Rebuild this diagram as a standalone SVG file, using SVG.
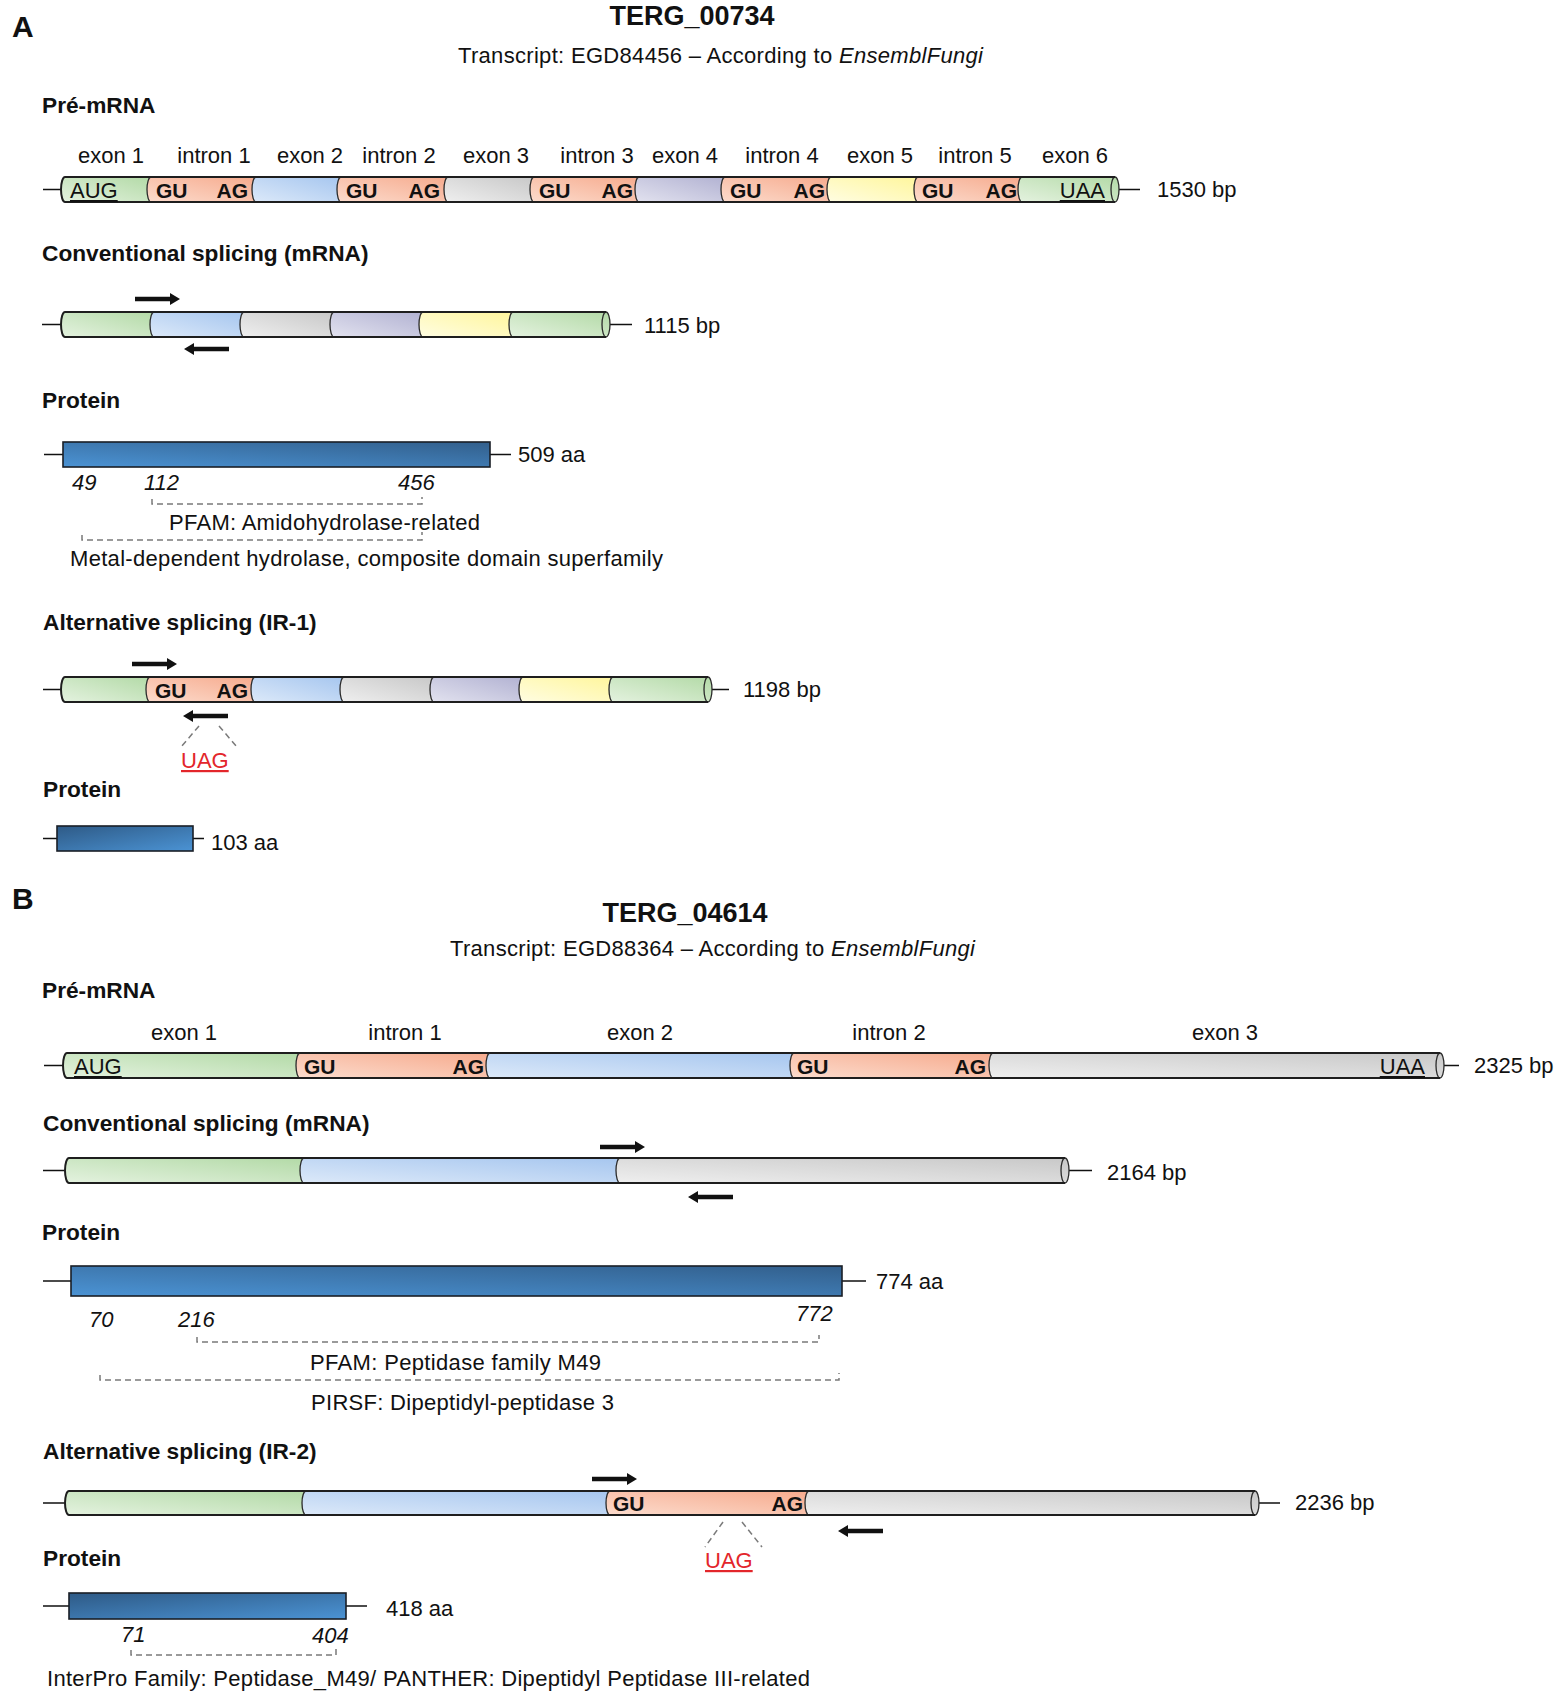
<svg xmlns="http://www.w3.org/2000/svg" xmlns:xlink="http://www.w3.org/1999/xlink" width="1562" height="1696" viewBox="0 0 1562 1696">
<defs>
<style>
text{font-family:"Liberation Sans",Arial,sans-serif;font-size:22px;fill:#111}
.b{font-weight:bold;font-size:22.7px}
.i{font-style:italic}
.big{font-size:27px;font-weight:bold}
.let{font-size:30px;font-weight:bold}
.mid{text-anchor:middle}
.end{text-anchor:end}
.u{text-decoration:underline}
.red{fill:#e3262b}
.nt{font-size:21px;font-weight:bold}
.edge{fill:none;stroke:#1e1e1e;stroke-width:2}
.arc{fill:none;stroke:#2a2a2a;stroke-width:1.3}
.ln{stroke:#111;stroke-width:1.5;fill:none}
.dash{fill:none;stroke:#7a7a7a;stroke-width:1.5;stroke-dasharray:6 4}
.prot{stroke:#1a1f26;stroke-width:1.6}
.arw{fill:#111}
</style>
<linearGradient id="gGreen" x1="0" y1="1" x2="1" y2="0"><stop offset="0" stop-color="#e4f2df"/><stop offset="1" stop-color="#b3daa7"/></linearGradient>
<linearGradient id="gSalmon" x1="0" y1="1" x2="1" y2="0"><stop offset="0" stop-color="#fcdccd"/><stop offset="1" stop-color="#f6aa8d"/></linearGradient>
<linearGradient id="gBlue" x1="0" y1="1" x2="1" y2="0"><stop offset="0" stop-color="#dce9f9"/><stop offset="1" stop-color="#a6c6ef"/></linearGradient>
<linearGradient id="gGray" x1="0" y1="1" x2="1" y2="0"><stop offset="0" stop-color="#efefef"/><stop offset="1" stop-color="#c8c8c8"/></linearGradient>
<linearGradient id="gLav" x1="0" y1="1" x2="1" y2="0"><stop offset="0" stop-color="#e2e2ef"/><stop offset="1" stop-color="#b2b2d2"/></linearGradient>
<linearGradient id="gYellow" x1="0" y1="1" x2="1" y2="0"><stop offset="0" stop-color="#fffde2"/><stop offset="1" stop-color="#fff69c"/></linearGradient>
<linearGradient id="gProt" x1="0" y1="1" x2="1" y2="0"><stop offset="0" stop-color="#4b93d4"/><stop offset="1" stop-color="#325f8c"/></linearGradient>
<linearGradient id="gProtR" x1="0" y1="0" x2="1" y2="1"><stop offset="0" stop-color="#2e5a86"/><stop offset="1" stop-color="#4b93d4"/></linearGradient>
<path id="arR" d="M0,-2.2 H35 V-6 L45,0 L35,6 V2.2 H0 Z"/>
<path id="arL" d="M45,-2.2 H10 V-6 L0,0 L10,6 V2.2 H45 Z"/>
</defs>
<rect width="1562" height="1696" fill="#fff"/>

<!-- ================= PANEL A ================= -->
<g id="A-header">
<text class="let" x="12" y="37">A</text>
<text class="big mid" x="692" y="25">TERG_00734</text>
<text x="458" y="63" textLength="525" lengthAdjust="spacing">Transcript: EGD84456 – According to <tspan class="i">EnsemblFungi</tspan></text>
</g>

<g id="A-premrna">
<text class="b" x="42" y="113">Pré-mRNA</text>
<g class="mid">
<text x="111" y="163">exon 1</text>
<text x="214" y="163">intron 1</text>
<text x="310" y="163">exon 2</text>
<text x="399" y="163">intron 2</text>
<text x="496" y="163">exon 3</text>
<text x="597" y="163">intron 3</text>
<text x="685" y="163">exon 4</text>
<text x="782" y="163">intron 4</text>
<text x="880" y="163">exon 5</text>
<text x="975" y="163">intron 5</text>
<text x="1075" y="163">exon 6</text>
</g>
<path class="ln" d="M43,189.5 H65 M1119,189.5 H1140"/>
<path fill="url(#gGreen)" d="M65,177 H151 A4 12.5 0 0 0 151,202 H65 A4 12.5 0 0 1 65,177 Z"/>
<path fill="url(#gSalmon)" d="M151,177 H256 A4 12.5 0 0 0 256,202 H151 A4 12.5 0 0 1 151,177 Z"/>
<path fill="url(#gBlue)" d="M256,177 H341 A4 12.5 0 0 0 341,202 H256 A4 12.5 0 0 1 256,177 Z"/>
<path fill="url(#gSalmon)" d="M341,177 H448 A4 12.5 0 0 0 448,202 H341 A4 12.5 0 0 1 341,177 Z"/>
<path fill="url(#gGray)" d="M448,177 H534 A4 12.5 0 0 0 534,202 H448 A4 12.5 0 0 1 448,177 Z"/>
<path fill="url(#gSalmon)" d="M534,177 H639 A4 12.5 0 0 0 639,202 H534 A4 12.5 0 0 1 534,177 Z"/>
<path fill="url(#gLav)" d="M639,177 H725 A4 12.5 0 0 0 725,202 H639 A4 12.5 0 0 1 639,177 Z"/>
<path fill="url(#gSalmon)" d="M725,177 H831 A4 12.5 0 0 0 831,202 H725 A4 12.5 0 0 1 725,177 Z"/>
<path fill="url(#gYellow)" d="M831,177 H918 A4 12.5 0 0 0 918,202 H831 A4 12.5 0 0 1 831,177 Z"/>
<path fill="url(#gSalmon)" d="M918,177 H1022 A4 12.5 0 0 0 1022,202 H918 A4 12.5 0 0 1 918,177 Z"/>
<path fill="url(#gGreen)" d="M1022,177 H1115 A4 12.5 0 0 1 1115,202 H1022 A4 12.5 0 0 1 1022,177 Z"/>
<path class="arc" d="M151,177 A4 12.5 0 0 0 151,202 M256,177 A4 12.5 0 0 0 256,202 M341,177 A4 12.5 0 0 0 341,202 M448,177 A4 12.5 0 0 0 448,202 M534,177 A4 12.5 0 0 0 534,202 M639,177 A4 12.5 0 0 0 639,202 M725,177 A4 12.5 0 0 0 725,202 M831,177 A4 12.5 0 0 0 831,202 M918,177 A4 12.5 0 0 0 918,202 M1022,177 A4 12.5 0 0 0 1022,202"/>
<ellipse class="arc" cx="1115" cy="189.5" rx="4" ry="12.5" fill="#e4f2df"/>
<path class="edge" d="M65,177 H1115 M65,202 H1115 M65,202 A4 12.5 0 0 1 65,177"/>
<text class="u" x="70" y="198">AUG</text>
<text class="nt" x="156" y="198">GU</text><text class="nt end" x="248" y="198">AG</text>
<text class="nt" x="346" y="198">GU</text><text class="nt end" x="440" y="198">AG</text>
<text class="nt" x="539" y="198">GU</text><text class="nt end" x="633" y="198">AG</text>
<text class="nt" x="730" y="198">GU</text><text class="nt end" x="825" y="198">AG</text>
<text class="nt" x="922" y="198">GU</text><text class="nt end" x="1017" y="198">AG</text>
<text class="u end" x="1105" y="198">UAA</text>
<text x="1157" y="197">1530 bp</text>
</g>

<g id="A-mrna">
<text class="b" x="42" y="261">Conventional splicing (mRNA)</text>
<path class="ln" d="M42,324.5 H65 M610,324.5 H632"/>
<path fill="url(#gGreen)" d="M65,312 H154 A4 12.5 0 0 0 154,337 H65 A4 12.5 0 0 1 65,312 Z"/>
<path fill="url(#gBlue)" d="M154,312 H244 A4 12.5 0 0 0 244,337 H154 A4 12.5 0 0 1 154,312 Z"/>
<path fill="url(#gGray)" d="M244,312 H334 A4 12.5 0 0 0 334,337 H244 A4 12.5 0 0 1 244,312 Z"/>
<path fill="url(#gLav)" d="M334,312 H423 A4 12.5 0 0 0 423,337 H334 A4 12.5 0 0 1 334,312 Z"/>
<path fill="url(#gYellow)" d="M423,312 H513 A4 12.5 0 0 0 513,337 H423 A4 12.5 0 0 1 423,312 Z"/>
<path fill="url(#gGreen)" d="M513,312 H606 A4 12.5 0 0 1 606,337 H513 A4 12.5 0 0 1 513,312 Z"/>
<path class="arc" d="M154,312 A4 12.5 0 0 0 154,337 M244,312 A4 12.5 0 0 0 244,337 M334,312 A4 12.5 0 0 0 334,337 M423,312 A4 12.5 0 0 0 423,337 M513,312 A4 12.5 0 0 0 513,337"/>
<ellipse class="arc" cx="606" cy="324.5" rx="4" ry="12.5" fill="#e4f2df"/>
<path class="edge" d="M65,312 H606 M65,337 H606 M65,337 A4 12.5 0 0 1 65,312"/>
<text x="644" y="333">1115 bp</text>
</g>

<g id="A-protein">
<text class="b" x="42" y="408">Protein</text>
<path class="ln" d="M44,454.5 H63 M490,454.5 H511"/>
<rect class="prot" x="63" y="442" width="427" height="25" fill="url(#gProt)"/>
<text x="518" y="462">509 aa</text>
<text class="i" x="72" y="490">49</text>
<text class="i" x="144" y="490">112</text>
<text class="i" x="398" y="490">456</text>
<text x="169" y="530" textLength="311" lengthAdjust="spacing">PFAM: Amidohydrolase-related</text>
<text x="70" y="566" textLength="593" lengthAdjust="spacing">Metal-dependent hydrolase, composite domain superfamily</text>
</g>

<g id="A-ir1">
<text class="b" x="43" y="630">Alternative splicing (IR-1)</text>
<path class="ln" d="M43,689.5 H65 M712,689.5 H729"/>
<path fill="url(#gGreen)" d="M65,677 H150 A4 12.5 0 0 0 150,702 H65 A4 12.5 0 0 1 65,677 Z"/>
<path fill="url(#gSalmon)" d="M150,677 H255 A4 12.5 0 0 0 255,702 H150 A4 12.5 0 0 1 150,677 Z"/>
<path fill="url(#gBlue)" d="M255,677 H344 A4 12.5 0 0 0 344,702 H255 A4 12.5 0 0 1 255,677 Z"/>
<path fill="url(#gGray)" d="M344,677 H434 A4 12.5 0 0 0 434,702 H344 A4 12.5 0 0 1 344,677 Z"/>
<path fill="url(#gLav)" d="M434,677 H523 A4 12.5 0 0 0 523,702 H434 A4 12.5 0 0 1 434,677 Z"/>
<path fill="url(#gYellow)" d="M523,677 H613 A4 12.5 0 0 0 613,702 H523 A4 12.5 0 0 1 523,677 Z"/>
<path fill="url(#gGreen)" d="M613,677 H708 A4 12.5 0 0 1 708,702 H613 A4 12.5 0 0 1 613,677 Z"/>
<path class="arc" d="M150,677 A4 12.5 0 0 0 150,702 M255,677 A4 12.5 0 0 0 255,702 M344,677 A4 12.5 0 0 0 344,702 M434,677 A4 12.5 0 0 0 434,702 M523,677 A4 12.5 0 0 0 523,702 M613,677 A4 12.5 0 0 0 613,702"/>
<ellipse class="arc" cx="708" cy="689.5" rx="4" ry="12.5" fill="#e4f2df"/>
<path class="edge" d="M65,677 H708 M65,702 H708 M65,702 A4 12.5 0 0 1 65,677"/>
<text class="nt" x="155" y="698">GU</text><text class="nt end" x="248" y="698">AG</text>
<text x="743" y="697">1198 bp</text>
<text class="u red" x="181" y="768">UAG</text>
</g>

<g id="A-protein-ir1">
<text class="b" x="43" y="797">Protein</text>
<path class="ln" d="M43,838.5 H57 M193,838.5 H204"/>
<rect class="prot" x="57" y="826" width="136" height="25" fill="url(#gProtR)"/>
<text x="211" y="850">103 aa</text>
</g>

<!-- ================= PANEL B ================= -->
<g id="B-header">
<text class="let" x="12" y="909">B</text>
<text class="big mid" x="685" y="922">TERG_04614</text>
<text x="450" y="956" textLength="525" lengthAdjust="spacing">Transcript: EGD88364 – According to <tspan class="i">EnsemblFungi</tspan></text>
</g>

<g id="B-premrna">
<text class="b" x="42" y="998">Pré-mRNA</text>
<g class="mid">
<text x="184" y="1040">exon 1</text>
<text x="405" y="1040">intron 1</text>
<text x="640" y="1040">exon 2</text>
<text x="889" y="1040">intron 2</text>
<text x="1225" y="1040">exon 3</text>
</g>
<path class="ln" d="M44,1065.5 H67 M1444,1065.5 H1459"/>
<path fill="url(#gGreen)" d="M67,1053 H300 A4 12.5 0 0 0 300,1078 H67 A4 12.5 0 0 1 67,1053 Z"/>
<path fill="url(#gSalmon)" d="M300,1053 H490 A4 12.5 0 0 0 490,1078 H300 A4 12.5 0 0 1 300,1053 Z"/>
<path fill="url(#gBlue)" d="M490,1053 H794 A4 12.5 0 0 0 794,1078 H490 A4 12.5 0 0 1 490,1053 Z"/>
<path fill="url(#gSalmon)" d="M794,1053 H993 A4 12.5 0 0 0 993,1078 H794 A4 12.5 0 0 1 794,1053 Z"/>
<path fill="url(#gGray)" d="M993,1053 H1440 A4 12.5 0 0 1 1440,1078 H993 A4 12.5 0 0 1 993,1053 Z"/>
<path class="arc" d="M300,1053 A4 12.5 0 0 0 300,1078 M490,1053 A4 12.5 0 0 0 490,1078 M794,1053 A4 12.5 0 0 0 794,1078 M993,1053 A4 12.5 0 0 0 993,1078"/>
<ellipse class="arc" cx="1440" cy="1065.5" rx="4" ry="12.5" fill="#efefef"/>
<path class="edge" d="M67,1053 H1440 M67,1078 H1440 M67,1078 A4 12.5 0 0 1 67,1053"/>
<text class="u" x="74" y="1074">AUG</text>
<text class="nt" x="304" y="1074">GU</text><text class="nt end" x="484" y="1074">AG</text>
<text class="nt" x="797" y="1074">GU</text><text class="nt end" x="986" y="1074">AG</text>
<text class="u end" x="1425" y="1074">UAA</text>
<text x="1474" y="1073">2325 bp</text>
</g>

<g id="B-mrna">
<text class="b" x="43" y="1131">Conventional splicing (mRNA)</text>
<path class="ln" d="M43,1170.5 H69 M1069,1170.5 H1092"/>
<path fill="url(#gGreen)" d="M69,1158 H304 A4 12.5 0 0 0 304,1183 H69 A4 12.5 0 0 1 69,1158 Z"/>
<path fill="url(#gBlue)" d="M304,1158 H620 A4 12.5 0 0 0 620,1183 H304 A4 12.5 0 0 1 304,1158 Z"/>
<path fill="url(#gGray)" d="M620,1158 H1065 A4 12.5 0 0 1 1065,1183 H620 A4 12.5 0 0 1 620,1158 Z"/>
<path class="arc" d="M304,1158 A4 12.5 0 0 0 304,1183 M620,1158 A4 12.5 0 0 0 620,1183"/>
<ellipse class="arc" cx="1065" cy="1170.5" rx="4" ry="12.5" fill="#efefef"/>
<path class="edge" d="M69,1158 H1065 M69,1183 H1065 M69,1183 A4 12.5 0 0 1 69,1158"/>
<text x="1107" y="1180">2164 bp</text>
</g>

<g id="B-protein">
<text class="b" x="42" y="1240">Protein</text>
<path class="ln" d="M43,1281 H71 M842,1281 H866"/>
<rect class="prot" x="71" y="1266" width="771" height="30" fill="url(#gProt)"/>
<text x="876" y="1289">774 aa</text>
<text class="i" x="89" y="1327">70</text>
<text class="i" x="178" y="1327">216</text>
<text class="i" x="796" y="1321">772</text>
<text x="310" y="1370" textLength="291" lengthAdjust="spacing">PFAM: Peptidase family M49</text>
<text x="311" y="1410" textLength="303" lengthAdjust="spacing">PIRSF: Dipeptidyl-peptidase 3</text>
</g>

<g id="B-ir2">
<text class="b" x="43" y="1459">Alternative splicing (IR-2)</text>
<path class="ln" d="M43,1503 H69 M1259,1503 H1280"/>
<path fill="url(#gGreen)" d="M69,1491 H306 A4 12 0 0 0 306,1515 H69 A4 12 0 0 1 69,1491 Z"/>
<path fill="url(#gBlue)" d="M306,1491 H610 A4 12 0 0 0 610,1515 H306 A4 12 0 0 1 306,1491 Z"/>
<path fill="url(#gSalmon)" d="M610,1491 H809 A4 12 0 0 0 809,1515 H610 A4 12 0 0 1 610,1491 Z"/>
<path fill="url(#gGray)" d="M809,1491 H1255 A4 12 0 0 1 1255,1515 H809 A4 12 0 0 1 809,1491 Z"/>
<path class="arc" d="M306,1491 A4 12 0 0 0 306,1515 M610,1491 A4 12 0 0 0 610,1515 M809,1491 A4 12 0 0 0 809,1515"/>
<ellipse class="arc" cx="1255" cy="1503" rx="4" ry="12" fill="#efefef"/>
<path class="edge" d="M69,1491 H1255 M69,1515 H1255 M69,1515 A4 12 0 0 1 69,1491"/>
<text class="nt" x="613" y="1511">GU</text><text class="nt end" x="803" y="1511">AG</text>
<text x="1295" y="1510">2236 bp</text>
<text class="u red" x="705" y="1568">UAG</text>
</g>

<g id="B-protein-ir2">
<text class="b" x="43" y="1566">Protein</text>
<path class="ln" d="M43,1606 H69 M346,1606 H367"/>
<rect class="prot" x="69" y="1593" width="277" height="26" fill="url(#gProtR)"/>
<text x="386" y="1616">418 aa</text>
<text class="i" x="121" y="1642">71</text>
<text class="i" x="312" y="1643">404</text>
<text x="47" y="1686" textLength="763" lengthAdjust="spacing">InterPro Family: Peptidase_M49/ PANTHER: Dipeptidyl Peptidase III-related</text>
</g>

<!-- ================= CONNECTORS ================= -->
<g id="connectors">
<g class="arw">
<use xlink:href="#arR" x="135" y="299"/>
<use xlink:href="#arL" x="184" y="349"/>
<use xlink:href="#arR" x="132" y="664"/>
<use xlink:href="#arL" x="183" y="716"/>
<use xlink:href="#arR" x="600" y="1147"/>
<use xlink:href="#arL" x="688" y="1197"/>
<use xlink:href="#arR" x="592" y="1479"/>
<use xlink:href="#arL" x="838" y="1531"/>
</g>
<g class="dash">
<path d="M152,499 V504 H422 V497"/>
<path d="M82,535 V540 H422 V532"/>
<path d="M197,1337 V1342 H819 V1335"/>
<path d="M100,1375 V1380 H839 V1373"/>
<path d="M131,1650 V1655 H336 V1648"/>
<path d="M199,726 L181,747 M219,726 L237,747"/>
<path d="M723,1522 L705,1547 M742,1522 L762,1547"/>
</g>
</g>
</svg>
